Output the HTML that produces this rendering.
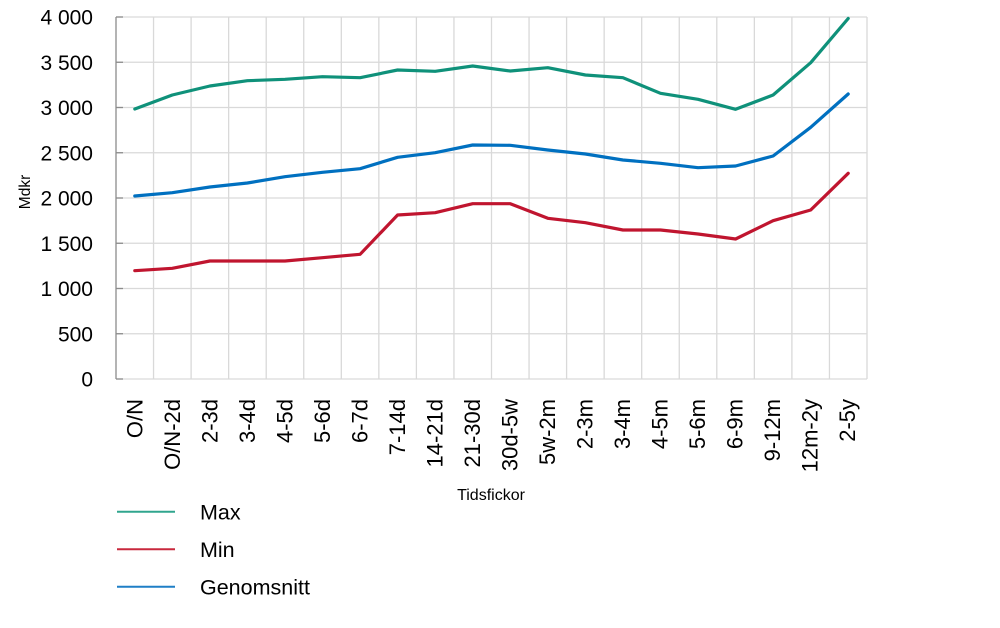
<!DOCTYPE html>
<html>
<head>
<meta charset="utf-8">
<style>
html,body{margin:0;padding:0;background:#fff;}
svg{display:block;}
text{font-family:"Liberation Sans",sans-serif;fill:#000;}
</style>
</head>
<body>
<svg width="1000" height="628" viewBox="0 0 1000 628" xmlns="http://www.w3.org/2000/svg">
<rect width="1000" height="628" fill="#fff"/>
<g stroke="#d9d9d9" stroke-width="1.3">
<line x1="116" y1="17" x2="867" y2="17"/>
<line x1="116" y1="62.25" x2="867" y2="62.25"/>
<line x1="116" y1="107.5" x2="867" y2="107.5"/>
<line x1="116" y1="152.75" x2="867" y2="152.75"/>
<line x1="116" y1="198" x2="867" y2="198"/>
<line x1="116" y1="243.25" x2="867" y2="243.25"/>
<line x1="116" y1="288.5" x2="867" y2="288.5"/>
<line x1="116" y1="333.75" x2="867" y2="333.75"/>
<line x1="116" y1="379" x2="867" y2="379"/>
<line x1="153.55" y1="17" x2="153.55" y2="379"/>
<line x1="191.1" y1="17" x2="191.1" y2="379"/>
<line x1="228.65" y1="17" x2="228.65" y2="379"/>
<line x1="266.2" y1="17" x2="266.2" y2="379"/>
<line x1="303.75" y1="17" x2="303.75" y2="379"/>
<line x1="341.3" y1="17" x2="341.3" y2="379"/>
<line x1="378.85" y1="17" x2="378.85" y2="379"/>
<line x1="416.4" y1="17" x2="416.4" y2="379"/>
<line x1="453.95" y1="17" x2="453.95" y2="379"/>
<line x1="491.5" y1="17" x2="491.5" y2="379"/>
<line x1="529.05" y1="17" x2="529.05" y2="379"/>
<line x1="566.6" y1="17" x2="566.6" y2="379"/>
<line x1="604.15" y1="17" x2="604.15" y2="379"/>
<line x1="641.7" y1="17" x2="641.7" y2="379"/>
<line x1="679.25" y1="17" x2="679.25" y2="379"/>
<line x1="716.8" y1="17" x2="716.8" y2="379"/>
<line x1="754.35" y1="17" x2="754.35" y2="379"/>
<line x1="791.9" y1="17" x2="791.9" y2="379"/>
<line x1="829.45" y1="17" x2="829.45" y2="379"/>
<line x1="867" y1="17" x2="867" y2="379"/>
</g>
<g stroke="#8c8c8c" stroke-width="1.3">
<line x1="116" y1="17" x2="116" y2="379"/>
<line x1="116" y1="17" x2="123" y2="17"/>
<line x1="116" y1="62.25" x2="123" y2="62.25"/>
<line x1="116" y1="107.5" x2="123" y2="107.5"/>
<line x1="116" y1="152.75" x2="123" y2="152.75"/>
<line x1="116" y1="198" x2="123" y2="198"/>
<line x1="116" y1="243.25" x2="123" y2="243.25"/>
<line x1="116" y1="288.5" x2="123" y2="288.5"/>
<line x1="116" y1="333.75" x2="123" y2="333.75"/>
<line x1="116" y1="379" x2="123" y2="379"/>
</g>
<g font-size="21" text-anchor="end">
<text x="93" y="24.5">4 000</text>
<text x="93" y="69.75">3 500</text>
<text x="93" y="115">3 000</text>
<text x="93" y="160.25">2 500</text>
<text x="93" y="205.5">2 000</text>
<text x="93" y="250.75">1 500</text>
<text x="93" y="296">1 000</text>
<text x="93" y="341.25">500</text>
<text x="93" y="386.5">0</text>
</g>
<text transform="translate(30,192) rotate(-90)" font-size="15.5" text-anchor="middle">Mdkr</text>

<g fill="none" stroke-width="3.2" stroke-linejoin="round" stroke-linecap="round">
<polyline stroke="#0f917a" points="134.8,109 172.3,95 209.9,86 247.4,80.7 285,79.3 322.5,76.7 360.1,77.7 397.6,70 435.2,71.3 472.7,66 510.3,71 547.8,67.7 585.4,75 622.9,77.7 660.5,93.3 698,99.3 735.6,109.3 773.1,95 810.7,62.7 848.2,18.5"/>
<polyline stroke="#0070c0" points="134.8,196 172.3,192.7 209.9,187 247.4,183 285,176.7 322.5,172.3 360.1,168.7 397.6,157.3 435.2,152.7 472.7,145 510.3,145.3 547.8,150 585.4,154 622.9,160 660.5,163.3 698,167.7 735.6,166 773.1,156 810.7,127.3 848.2,94"/>
<polyline stroke="#c0152f" points="134.8,270.7 172.3,268.3 209.9,261 247.4,261 285,261 322.5,257.7 360.1,254.3 397.6,215 435.2,212.7 472.7,203.7 510.3,203.7 547.8,218.3 585.4,222.7 622.9,230 660.5,230 698,234 735.6,239 773.1,220.7 810.7,210 848.2,173.3"/>
</g>

<g font-size="22" text-anchor="end">
<text transform="translate(142.5,399) rotate(-90)">O/N</text>
<text transform="translate(180,399) rotate(-90)">O/N-2d</text>
<text transform="translate(217.5,399) rotate(-90)">2-3d</text>
<text transform="translate(255,399) rotate(-90)">3-4d</text>
<text transform="translate(292.5,399) rotate(-90)">4-5d</text>
<text transform="translate(330,399) rotate(-90)">5-6d</text>
<text transform="translate(367.5,399) rotate(-90)">6-7d</text>
<text transform="translate(405,399) rotate(-90)">7-14d</text>
<text transform="translate(442.5,399) rotate(-90)">14-21d</text>
<text transform="translate(480,399) rotate(-90)">21-30d</text>
<text transform="translate(517.5,399) rotate(-90)">30d-5w</text>
<text transform="translate(555,399) rotate(-90)">5w-2m</text>
<text transform="translate(592.5,399) rotate(-90)">2-3m</text>
<text transform="translate(630,399) rotate(-90)">3-4m</text>
<text transform="translate(667.5,399) rotate(-90)">4-5m</text>
<text transform="translate(705,399) rotate(-90)">5-6m</text>
<text transform="translate(742.5,399) rotate(-90)">6-9m</text>
<text transform="translate(780,399) rotate(-90)">9-12m</text>
<text transform="translate(817.5,399) rotate(-90)">12m-2y</text>
<text transform="translate(855,399) rotate(-90)">2-5y</text>
</g>
<text x="491" y="500" font-size="16" text-anchor="middle">Tidsfickor</text>

<g stroke-width="2">
<line x1="117" y1="511.7" x2="175" y2="511.7" stroke="#30a58e"/>
<line x1="117" y1="549.3" x2="175" y2="549.3" stroke="#c8283d"/>
<line x1="117" y1="586.7" x2="175" y2="586.7" stroke="#1f7fc6"/>
</g>
<g font-size="21.5">
<text x="200" y="519.5">Max</text>
<text x="200" y="557">Min</text>
<text x="200" y="594.5">Genomsnitt</text>
</g>
</svg>
</body>
</html>
